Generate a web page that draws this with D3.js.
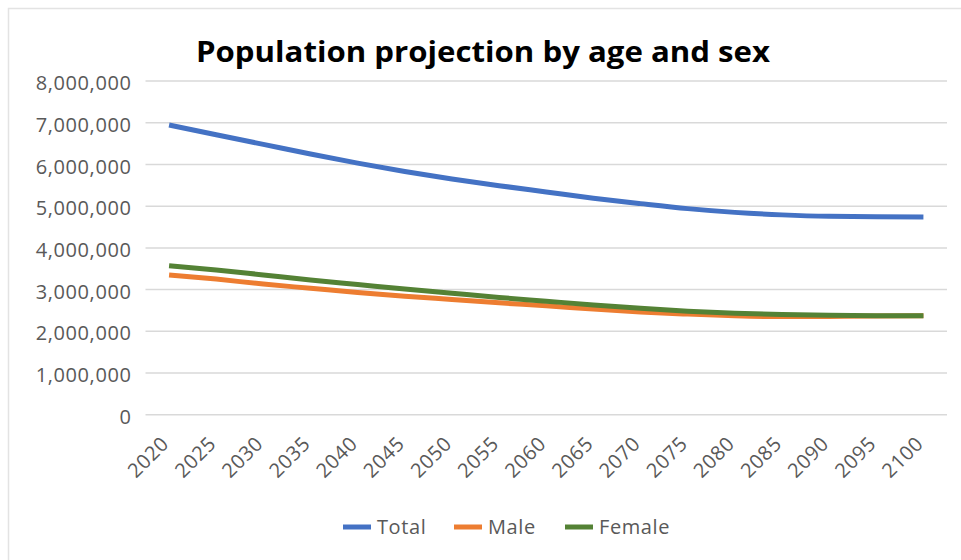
<!DOCTYPE html>
<html>
<head>
<meta charset="utf-8">
<script src="https://cdn.jsdelivr.net/npm/d3@7"></script>
<style>
    body { margin: 0; background: #ffffff; }
    text { font-family: "Open Sans", sans-serif; }
</style>
</head>
<body>
<script>

let years = ["2020","2025","2030","2035","2040","2045","2050","2055","2060",
             "2065","2070","2075","2080","2085","2090","2095","2100"]

let total  = [6935000, 6700000, 6470000, 6240000, 6020000, 5820000, 5640000, 5480000, 5330000,
              5180000, 5050000, 4930000, 4840000, 4780000, 4745000, 4735000, 4730000]
let male   = [3340000, 3240000, 3120000, 3020000, 2920000, 2830000, 2750000, 2670000, 2600000,
              2520000, 2450000, 2400000, 2360000, 2340000, 2345000, 2355000, 2360000]
let female = [3560000, 3460000, 3340000, 3220000, 3110000, 3000000, 2900000, 2800000, 2710000,
              2620000, 2540000, 2470000, 2420000, 2390000, 2370000, 2360000, 2360000]

let yTicks = [0, 1000000, 2000000, 3000000, 4000000, 5000000, 6000000, 7000000, 8000000]

let seriesNames  = ["Total", "Male", "Female"]
let seriesColors = ["#4472c4", "#ed7d31", "#548235"]

let w = 961
let h = 560

let svg = d3.select("body")
            .append("svg")
                .attr("width", w)
                .attr("height", h)

// chart area border
svg.append("rect")
    .attr("x", 8.5)
    .attr("y", 8.5)
    .attr("width", w + 20)
    .attr("height", h + 20)
    .attr("fill", "none")
    .attr("stroke", "#e3e3e3")
    .attr("stroke-width", 1.5)

svg.append("text")
    .attr("x", 483)
    .attr("y", 62)
    .attr("text-anchor", "middle")
    .attr("font-size", 28)
    .attr("font-weight", "bold")
    .attr("fill", "#000000")
    .attr("textLength", 574)
    .attr("lengthAdjust", "spacingAndGlyphs")
    .text("Population projection by age and sex")

let x = d3.scalePoint()
            .domain(years)
            .range([145.5, 947])
            .padding(0.5)

let y = d3.scaleLinear()
            .domain([0, 8000000])
            .range([414.2, 80.6])

// horizontal gridlines
let yAxis = d3.axisLeft(y)
                .tickValues(yTicks)
                .tickSize(-(947 - 145.5))
                .tickPadding(14)
                .tickFormat(d3.format(","))

let gy = svg.append("g")
            .attr("transform", "translate(145.5,0)")
            .call(yAxis)

gy.select(".domain").remove()
gy.selectAll(".tick line")
    .attr("stroke", "#d9d9d9")
    .attr("stroke-width", 1.5)
gy.selectAll(".tick text")
    .attr("font-family", "Open Sans, sans-serif")
    .attr("font-size", 20)
    .attr("letter-spacing", 0.6)
    .attr("fill", "#595959")
    .attr("dy", "0.45em")

// rotated year labels
svg.append("g")
    .selectAll("text")
    .data(years)
    .enter()
    .append("text")
        .attr("transform", (d) => "translate(" + (x(d) + 1) + ",445) rotate(-45)")
        .attr("text-anchor", "end")
        .attr("font-size", 20)
        .attr("letter-spacing", 0.6)
        .attr("fill", "#595959")
        .text((d) => d)

let series = [total, male, female]

let line = d3.line()
                .x((d, i) => x(years[i]))
                .y((d) => y(d))
                .curve(d3.curveMonotoneX)

svg.append("g")
    .selectAll("path")
    .data(series)
    .enter()
    .append("path")
        .attr("d", (d) => line(d))
        .attr("fill", "none")
        .attr("stroke", (d, i) => seriesColors[i])
        .attr("stroke-width", 5)

// legend
let legendX = [343, 454, 565]

let legend = svg.append("g")
                .selectAll("g")
                .data(seriesNames)
                .enter()
                .append("g")
                    .attr("transform", (d, i) => "translate(" + legendX[i] + ",527)")

legend.append("line")
    .attr("x1", 0)
    .attr("x2", 28)
    .attr("stroke", (d, i) => seriesColors[i])
    .attr("stroke-width", 5)

legend.append("text")
    .attr("x", 34)
    .attr("dy", "0.35em")
    .attr("font-size", 20)
    .attr("letter-spacing", 0.6)
    .attr("fill", "#595959")
    .text((d) => d)

</script>
</body>
</html>
